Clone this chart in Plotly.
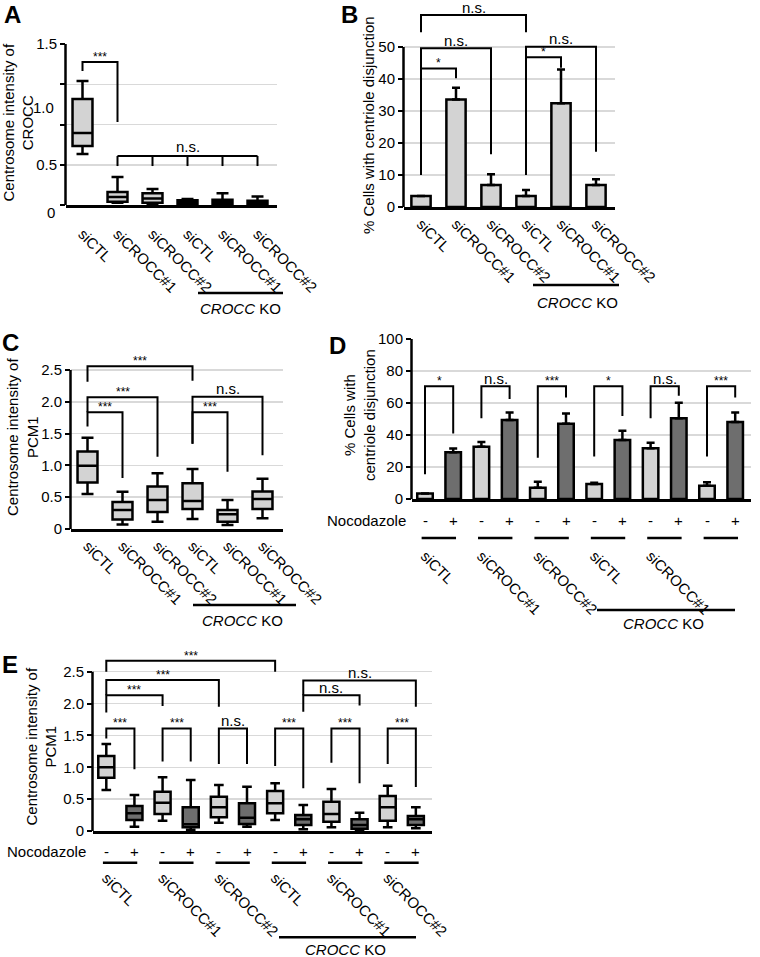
import plotly.graph_objects as go

W, H = 760, 957
def PX(x): return x / W
def PY(y): return 1 - y / H

FONT = "Liberation Sans, Arial, sans-serif"
LIGHT = "#d3d3d3"
DARK = "#6e6e6e"
GRID = "#d9d9d9"

groups = ["siCTL", "siCROCC#1", "siCROCC#2", "siCTL", "siCROCC#1", "siCROCC#2"]
pos6 = [0, 1, 2, 3, 4, 5]
pos_minus = [0, 2, 4, 6, 8, 10]
pos_plus = [1, 3, 5, 7, 9, 11]

# ---------------- Panel A (box) ----------------
a_upper = [1.155, 0.26, 0.15, 0.055, 0.11, 0.08]
a_q3 = [0.988, 0.12, 0.11, 0.045, 0.05, 0.04]
a_med = [0.67, 0.075, 0.06, 0.03, 0.03, 0.025]
a_q1 = [0.55, 0.03, 0.02, 0.01, 0.01, 0.005]
a_lower = [0.475, 0.02, 0.01, 0.005, 0.0, 0.0]

# ---------------- Panel B (bars) ----------------
b_mean = [3.4, 33.6, 6.9, 3.4, 32.4, 6.9]
b_err = [0.0, 3.7, 3.3, 1.9, 10.6, 1.8]

# ---------------- Panel C (box) ----------------
c_upper = [1.435, 0.587, 0.875, 0.943, 0.456, 0.79]
c_q3 = [1.22, 0.425, 0.67, 0.718, 0.30, 0.59]
c_med = [0.995, 0.30, 0.455, 0.44, 0.23, 0.47]
c_q1 = [0.73, 0.15, 0.267, 0.315, 0.115, 0.315]
c_lower = [0.55, 0.07, 0.115, 0.157, 0.063, 0.17]

# ---------------- Panel D (bars, -/+ nocodazole) ----------------
d_minus = [3.5, 32.7, 7.1, 9.4, 31.7, 8.3]
d_minus_err = [0.0, 2.9, 3.7, 0.8, 3.5, 2.1]
d_plus = [29.2, 49.4, 47.1, 36.9, 50.4, 48.1]
d_plus_err = [2.3, 4.6, 6.4, 5.8, 9.8, 5.9]

# ---------------- Panel E (box, -/+ nocodazole) ----------------
e_m_upper = [1.366, 0.843, 0.722, 0.748, 0.659, 0.712]
e_m_q3 = [1.177, 0.617, 0.539, 0.628, 0.46, 0.55]
e_m_med = [1.0, 0.445, 0.372, 0.434, 0.267, 0.372]
e_m_q1 = [0.837, 0.267, 0.215, 0.277, 0.146, 0.162]
e_m_lower = [0.644, 0.162, 0.131, 0.173, 0.058, 0.058]

e_p_upper = [0.565, 0.80, 0.696, 0.408, 0.288, 0.372]
e_p_q3 = [0.392, 0.372, 0.434, 0.251, 0.183, 0.236]
e_p_med = [0.277, 0.105, 0.209, 0.183, 0.094, 0.183]
e_p_q1 = [0.173, 0.058, 0.11, 0.094, 0.037, 0.094]
e_p_lower = [0.068, 0.016, 0.068, 0.026, 0.01, 0.042]

# significance brackets: (x_left, x_right, y_left_bottom, y_top, y_right_bottom, label)
br_A = [(0, 1, 1.248, 1.332, 0.773, "***")]
br_A_multi = ([1, 2, 3, 4, 5], 0.457, 0.363, "n.s.")
br_B = [(0, 1, 10, 43.3, 40.2, "*"), (0, 2, 43.3, 49.6, 16.5, "n.s."),
        (0, 3, 54.6, 60.0, 54.6, "n.s."), (3, 4, 10, 46.8, 43.5, "*"),
        (3, 5, 46.8, 50.1, 17.3, "n.s.")]
br_C = [(0, 3, 2.316, 2.56, 2.33, "***"), (0, 2, 1.835, 2.07, 1.137, "***"),
        (0, 1, 1.61, 1.835, 0.80, "***"), (3, 5, 1.34, 2.08, 1.16, "n.s."),
        (3, 4, 1.34, 1.835, 0.90, "***")]
br_D = [(0, 1, 15.4, 70.5, 41.0, "*"), (2, 3, 50.4, 70.5, 62.5, "n.s."),
        (4, 5, 25.8, 70.5, 63.5, "***"), (6, 7, 26.5, 70.5, 51.9, "*"),
        (8, 9, 50.4, 70.5, 64.6, "n.s."), (10, 11, 26.5, 70.5, 63.5, "***")]
br_E = [(0, 1, 1.45, 1.61, 0.97, "***"), (2, 3, 1.09, 1.61, 1.09, "***"),
        (4, 5, 1.05, 1.61, 1.05, "n.s."), (6, 7, 1.02, 1.61, 0.67, "***"),
        (8, 9, 1.07, 1.61, 0.75, "***"), (10, 11, 1.05, 1.61, 0.69, "***"),
        (0, 2, 1.86, 2.13, 1.96, "***"), (0, 4, 2.13, 2.37, 1.95, "***"),
        (0, 6, 2.50, 2.67, 2.50, "***"), (7, 9, 1.87, 2.13, 1.97, "n.s."),
        (7, 11, 2.13, 2.36, 1.95, "n.s.")]

# ---------------- geometry (pixels) ----------------
panels = {
    "A": dict(x="x", y="y", left=66, right=277, c0=82.5, sp=35.0, y0=205, ytop=44, scale=1.5 / 161.0),
    "B": dict(x="x2", y="y2", left=404, right=615, c0=421, sp=35.0, y0=207, ytop=2, scale=10 / 32.0),
    "C": dict(x="x3", y="y3", left=71, right=283, c0=87.5, sp=35.0, y0=529, ytop=352, scale=2.5 / 159.0),
    "D": dict(x="x4", y="y4", left=412, right=751, c0=425, sp=28.2, y0=499, ytop=339, scale=100 / 160.0),
    "E": dict(x="x5", y="y5", left=93, right=431.7, c0=106.3, sp=28.14, y0=831, ytop=648, scale=2.5 / 159.3),
}

fig = go.Figure()

box_style = dict(line=dict(color="black", width=2.5), width=0.57, whiskerwidth=0.6,
                 boxpoints=False, showlegend=False, hoverinfo="skip")

fig.add_trace(go.Box(x=pos6, q1=a_q1, median=a_med, q3=a_q3, lowerfence=a_lower,
                     upperfence=a_upper, fillcolor=LIGHT, xaxis="x", yaxis="y", **box_style))
fig.add_trace(go.Box(x=pos6, q1=c_q1, median=c_med, q3=c_q3, lowerfence=c_lower,
                     upperfence=c_upper, fillcolor=LIGHT, xaxis="x3", yaxis="y3", **box_style))
fig.add_trace(go.Box(x=pos_minus, q1=e_m_q1, median=e_m_med, q3=e_m_q3, lowerfence=e_m_lower,
                     upperfence=e_m_upper, fillcolor=LIGHT, xaxis="x5", yaxis="y5", **box_style))
fig.add_trace(go.Box(x=pos_plus, q1=e_p_q1, median=e_p_med, q3=e_p_q3, lowerfence=e_p_lower,
                     upperfence=e_p_upper, fillcolor=DARK, xaxis="x5", yaxis="y5", **box_style))

def bar(xs, ys, errs, color, xa, ya):
    return go.Bar(x=xs, y=ys, width=0.55, marker=dict(color=color, line=dict(color="black", width=2.5)),
                  error_y=dict(type="data", array=errs, arrayminus=[0] * len(errs), symmetric=False,
                               color="black", thickness=2.5, width=4),
                  xaxis=xa, yaxis=ya, showlegend=False, hoverinfo="skip")

fig.add_trace(bar(pos6, b_mean, b_err, LIGHT, "x2", "y2"))
fig.add_trace(bar(pos_minus, d_minus, d_minus_err, LIGHT, "x4", "y4"))
fig.add_trace(bar(pos_plus, d_plus, d_plus_err, DARK, "x4", "y4"))

shapes = []
annotations = []

def txt(text, x, y, xref="paper", yref="paper", size=15, xanchor="center", yanchor="middle", **kw):
    d = dict(text=text, x=x, y=y, xref=xref, yref=yref, showarrow=False,
             xanchor=xanchor, yanchor=yanchor,
             font=dict(family=FONT, size=size, color="black"))
    d.update(kw)
    annotations.append(d)

def add_bracket(p, x1, x2, yl, yt, yr, label):
    shapes.append(dict(type="path", path=f"M {x1},{yl} L {x1},{yt} L {x2},{yt} L {x2},{yr}",
                       xref=p["x"], yref=p["y"], line=dict(color="black", width=2)))
    if label == "n.s.":
        txt(label, (x1 + x2) / 2, yt, p["x"], p["y"], size=15, yanchor="bottom", yshift=-2.5)
    else:
        txt(label, (x1 + x2) / 2, yt, p["x"], p["y"], size=12, yanchor="bottom", yshift=-4)

layout_axes = {}
ytick_cfg = {
    "B": ([0, 10, 20, 30, 40, 50], ["0", "10", "20", "30", "40", "50"]),
    "C": ([0, 0.5, 1.0, 1.5, 2.0, 2.5], ["0", "0.5", "1.0", "1.5", "2.0", "2.5"]),
    "D": ([0, 20, 40, 60, 80, 100], ["0", "20", "40", "60", "80", "100"]),
    "E": ([0, 0.5, 1.0, 1.5, 2.0, 2.5], ["0", "0.5", "1.0", "1.5", "2.0", "2.5"]),
}
for name, p in panels.items():
    xr = [(p["left"] - p["c0"]) / p["sp"], (p["right"] - p["c0"]) / p["sp"]]
    yr = [0, (p["y0"] - p["ytop"]) * p["scale"]]
    xk = "xaxis" + p["x"][1:]
    yk = "yaxis" + p["y"][1:]
    if name in ("D", "E"):
        xt = dict(tickvals=pos_minus, ticktext=groups[:3] * 2)
    else:
        xt = dict(tickvals=pos6, ticktext=groups)
    layout_axes[xk] = dict(domain=[PX(p["left"]), PX(p["right"])], range=xr, anchor=p["y"],
                           showline=True, linecolor="black", linewidth=2.5, ticks="",
                           showgrid=False, zeroline=False, tickangle=45, automargin=False,
                           tickfont=dict(family=FONT, size=15, color="black"), **xt)
    if name == "A":
        yt = dict(tickvals=[0, 0.375, 0.75, 1.125, 1.5], ticktext=["", "0.5", "", "", "1.5"])
    else:
        yt = dict(tickvals=ytick_cfg[name][0], ticktext=ytick_cfg[name][1])
    layout_axes[yk] = dict(domain=[PY(p["y0"]), PY(p["ytop"])], range=yr, anchor=p["x"],
                           showline=False, ticks="outside", ticklen=5, tickwidth=2, tickcolor="black",
                           showgrid=True, gridcolor=GRID, gridwidth=1.5, zeroline=False,
                           automargin=False,
                           tickfont=dict(family=FONT, size=15, color="black"), **yt)
    top_val = yt["tickvals"][-1]
    shapes.append(dict(type="line", xref="paper", yref=p["y"], x0=PX(p["left"]) - 0.5 / W,
                       x1=PX(p["left"]) - 0.5 / W, y0=0, y1=top_val,
                       line=dict(color="black", width=2.5)))

layout_axes["xaxis"]["ticklabelstandoff"] = 12
layout_axes["xaxis4"]["ticklabelstandoff"] = 40
layout_axes["xaxis5"]["ticklabelstandoff"] = 30

# extra A tick labels (placed as in original figure)
txt("0", PX(57), PY(213), xanchor="right")
txt("1.0", 0, 0.904, "x domain", "y", size=15, xanchor="right", xshift=-10)

# brackets
for b in br_A:
    add_bracket(panels["A"], *b)
legs, top, bot, lab = br_A_multi
shapes.append(dict(type="path", path=f"M {legs[0]},{top} L {legs[-1]},{top}", xref="x", yref="y",
                   line=dict(color="black", width=2)))
for lg in legs:
    shapes.append(dict(type="line", x0=lg, x1=lg, y0=bot, y1=top, xref="x", yref="y",
                       line=dict(color="black", width=2)))
txt(lab, (legs[0] + legs[-1]) / 2, top, "x", "y", size=15, yanchor="bottom", yshift=-1)
for b in br_B:
    add_bracket(panels["B"], *b)
for b in br_C:
    add_bracket(panels["C"], *b)
for b in br_D:
    add_bracket(panels["D"], *b)
for b in br_E:
    add_bracket(panels["E"], *b)

# nocodazole rows
for name, ypx, lypx, noc_x in (("D", 520, 538, 325), ("E", 851.7, 862.7, 5)):
    p = panels[name]
    txt("Nocodazole", PX(noc_x), PY(ypx), xanchor="left")
    for m, pl in zip(pos_minus, pos_plus):
        txt("-", m, PY(ypx), p["x"], "paper")
        txt("+", pl, PY(ypx), p["x"], "paper")
        shapes.append(dict(type="line", xref=p["x"], yref="paper", x0=m - 0.12, x1=pl + 0.1,
                           y0=PY(lypx), y1=PY(lypx), line=dict(color="black", width=2.5)))

# CROCC KO labels
for (x0, x1, yl, xc, yt) in ((198, 283, 293, 240, 308), (533, 619, 285, 577, 302),
                             (193, 296, 605, 242, 620), (597, 735, 610, 663, 623),
                             (279, 416, 937.3, 345, 949.5)):
    shapes.append(dict(type="line", xref="paper", yref="paper", x0=PX(x0), x1=PX(x1),
                       y0=PY(yl), y1=PY(yl), line=dict(color="black", width=2.5)))
    txt("<i>CROCC</i> KO", PX(xc), PY(yt))

# panel letters
for letter, x, y in (("A", 12, 14), ("B", 349, 14), ("C", 10, 342), ("D", 337, 345), ("E", 10, 664)):
    txt(f"<b>{letter}</b>", PX(x), PY(y), size=24)

# y axis titles
for t, x, y in (("Centrosome intensity of<br>CROCC", 17.5, 123),
                ("% Cells with centriole disjunction", 368, 125),
                ("Centrosome intensity of<br>PCM1", 22, 437),
                ("% Cells with<br>centriole disjunction", 359, 415),
                ("Centrosome intensity of<br>PCM1", 40.5, 747)):
    txt(t, PX(x), PY(y), textangle=-90)

fig.update_layout(template="none", width=W, height=H, autosize=False,
                  margin=dict(l=0, r=0, t=0, b=0, pad=0, autoexpand=False),
                  paper_bgcolor="white", plot_bgcolor="white", barmode="overlay",
                  boxmode="overlay", showlegend=False, shapes=shapes, annotations=annotations,
                  font=dict(family=FONT, size=15, color="black"), **layout_axes)

fig.write_html("out.html", config={"displayModeBar": False, "staticPlot": True},
               post_script="document.body.style.margin='0';document.body.style.overflow='hidden';")
